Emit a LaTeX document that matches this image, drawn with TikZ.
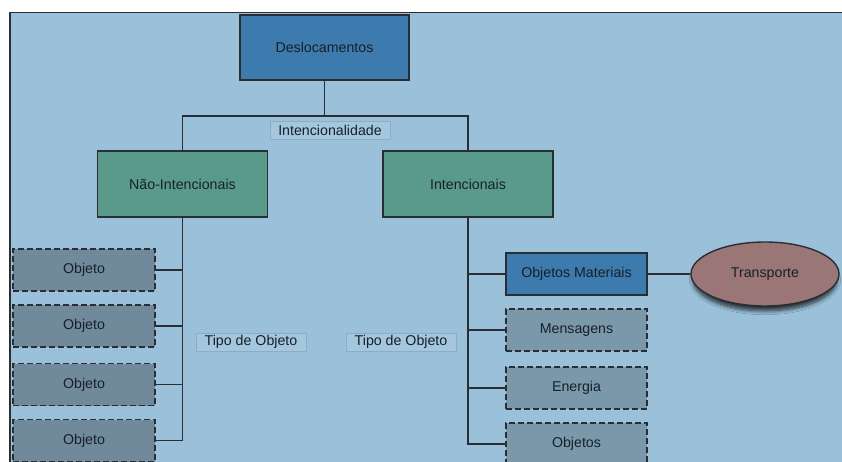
\documentclass[tikz,border=0pt]{standalone}
\usepackage{fontspec}
\setmainfont{Liberation Sans}
\usetikzlibrary{shadows.blur,shapes.geometric}
\definecolor{panel}{HTML}{9BC1DA}
\definecolor{topblue}{HTML}{3D7AAD}
\definecolor{green}{HTML}{5A9A8A}
\definecolor{greyl}{HTML}{708A9C}
\definecolor{greyr}{HTML}{7B97AA}
\definecolor{mauve}{HTML}{9A7676}
\definecolor{edge}{HTML}{2A2E33}
\definecolor{lblfill}{HTML}{A4C7DE}
\definecolor{lbledge}{HTML}{8BAEC6}
\definecolor{txt}{HTML}{16202B}
\begin{document}
\begin{tikzpicture}[x=1pt,y=-1pt,
  every node/.style={font=\fontsize{14.2}{16}\selectfont, text=txt},
  solidbox/.style={draw=edge, line width=1.4pt, minimum width=#1, inner sep=0pt},
  dbox/.style={draw=edge, line width=1.3pt, dash pattern=on 6pt off 3pt, minimum width=#1, minimum height=42pt, inner sep=0pt},
  lbl/.style={draw=lbledge, line width=0.6pt, fill=lblfill, minimum width=#1, minimum height=18pt, inner sep=0pt},
  conn/.style={draw=edge, line width=1.4pt}]
\useasboundingbox (0,0) rectangle (842,462);
\clip (0,0) rectangle (842,462);
\fill[panel] (10,12) rectangle (850,470);
\draw[edge, line width=1.6pt] (10,470) -- (10,12.5) -- (850,12.5);

\node[solidbox=169pt, minimum height=65pt, fill=topblue] (des) at (324.5,47.5) {Deslocamentos};
\node[solidbox=170pt, minimum height=66pt, fill=green] (ni) at (182.5,184) {Não-Intencionais};
\node[solidbox=170pt, minimum height=66pt, fill=green] (int) at (468,184) {Intencionais};
\coordinate (j) at (324.5,116);

\node[dbox=142pt, fill=greyl] (o1) at (84,270) {Objeto};
\node[dbox=142pt, fill=greyl] (o2) at (84,326) {Objeto};
\node[dbox=142pt, fill=greyl] (o3) at (84,384.5) {Objeto};
\node[dbox=142pt, fill=greyl] (o4) at (84,440.5) {Objeto};

\node[solidbox=141pt, minimum height=42pt, fill=topblue] (om) at (576.5,274) {Objetos Materiais};
\node[dbox=141pt, fill=greyr] (me) at (576.5,330) {Mensagens};
\node[dbox=141pt, fill=greyr] (en) at (576.5,388) {Energia};
\node[dbox=141pt, fill=greyr] (ob) at (576.5,444) {Objetos};

\node[ellipse, draw=edge, line width=1.4pt, fill=mauve, minimum width=148pt, minimum height=64pt, inner sep=0pt,
  blur shadow={shadow xshift=0pt, shadow yshift=-6pt, shadow scale=0.97, shadow blur radius=4pt, shadow opacity=75, shadow blur steps=10}] (tr) at (765,274) {Transporte};

\draw[conn] (des.south) -- (j);
\draw[conn] (ni.north) -- (ni.north |- j) -- (int.north |- j) -- (int.north);
\draw[conn] (ni.south) -- (ni.south |- o4.east) -- (o4.east);
\draw[conn] (o1.east) -- (o1.east -| ni.south);
\draw[conn] (o2.east) -- (o2.east -| ni.south);
\draw[conn] (o3.east) -- (o3.east -| ni.south);
\draw[conn] (int.south) -- (int.south |- ob.west) -- (ob.west);
\draw[conn] (om.west) -- (om.west -| int.south);
\draw[conn] (me.west) -- (me.west -| int.south);
\draw[conn] (en.west) -- (en.west -| int.south);
\draw[conn] (om.east) -- (tr.west);

\node[lbl=120pt] (l1) at (330,130) {Intencionalidade};
\node[lbl=110pt] (l2) at (251,342) {Tipo de Objeto};
\node[lbl=110pt] (l3) at (401,342) {Tipo de Objeto};
\end{tikzpicture}
\end{document}
